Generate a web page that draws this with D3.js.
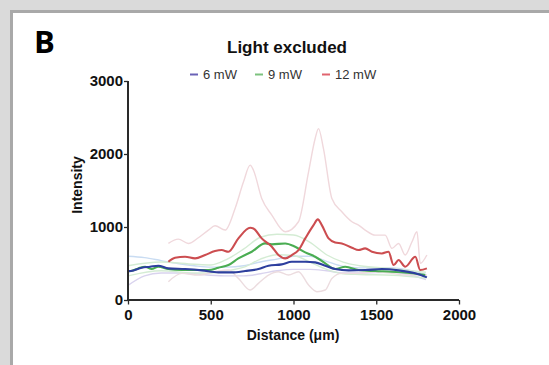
<!DOCTYPE html>
<html>
<head>
<meta charset="utf-8">
<script src="https://cdn.jsdelivr.net/npm/d3@7"></script>
<style>
  html, body { margin: 0; padding: 0; background: #dadada; }
  svg { display: block; }
</style>
</head>
<body>
<svg id="chart" width="549" height="365"></svg>
<script>
// ---- data: intensity profiles along distance (µm) ----
const xTicks = [0, 500, 1000, 1500, 2000];
const yTicks = [0, 1000, 2000, 3000];
const seriesNames = ["6 mW", "9 mW", "12 mW"];

// 6 mW mean
const mw6Dist = [0, 18, 83, 133, 183, 244, 345, 446, 546, 627, 708, 788, 849, 929, 990, 1071, 1131, 1192, 1252, 1333, 1433, 1534, 1635, 1736, 1806];
const mw6Mean = [395, 397, 442, 456, 470, 433, 424, 406, 378, 378, 397, 424, 470, 488, 524, 524, 515, 470, 424, 406, 410, 424, 406, 365, 310];
// 6 mW ± SD
const mw6SdDist = [0, 100, 200, 300, 400, 500, 600, 700, 800, 900, 1000, 1100, 1200, 1300, 1400, 1600, 1800];
const mw6Upper = [600, 580, 540, 500, 470, 450, 450, 470, 520, 560, 600, 600, 530, 460, 440, 440, 350];
const mw6Lower = [200, 330, 370, 370, 360, 340, 330, 330, 360, 400, 420, 420, 400, 370, 370, 380, 280];

// 9 mW mean
const mw9Dist = [0, 18, 62, 103, 143, 183, 244, 325, 405, 486, 546, 607, 667, 748, 829, 869, 950, 1010, 1071, 1131, 1192, 1252, 1313, 1393, 1494, 1595, 1700, 1796];
const mw9Mean = [395, 397, 433, 456, 424, 456, 424, 410, 410, 410, 442, 479, 570, 661, 775, 762, 775, 730, 652, 593, 502, 424, 456, 410, 397, 388, 370, 342];
// 9 mW ± SD
const mw9SdDist = [0, 200, 400, 500, 600, 700, 800, 900, 1000, 1100, 1200, 1300, 1400, 1600, 1800];
const mw9Upper = [470, 520, 490, 480, 560, 700, 860, 900, 890, 790, 620, 520, 470, 430, 380];
const mw9Lower = [330, 400, 370, 370, 400, 450, 560, 620, 610, 520, 420, 360, 350, 340, 300];

// 12 mW mean
const mw12Dist = [244, 284, 345, 405, 466, 526, 566, 607, 667, 738, 758, 808, 869, 909, 950, 990, 1030, 1071, 1121, 1147, 1171, 1212, 1252, 1292, 1353, 1393, 1433, 1474, 1534, 1574, 1605, 1635, 1675, 1736, 1766, 1806];
const mw12Mean = [524, 579, 593, 570, 616, 670, 684, 661, 844, 990, 980, 844, 730, 616, 570, 616, 684, 844, 1026, 1104, 1026, 844, 789, 775, 716, 684, 707, 661, 638, 661, 479, 547, 456, 593, 410, 433];
// 12 mW + SD
const mw12UpDist = [244, 304, 365, 425, 486, 526, 587, 647, 698, 738, 758, 808, 869, 950, 1030, 1091, 1131, 1151, 1181, 1232, 1292, 1353, 1393, 1433, 1494, 1554, 1595, 1635, 1675, 1716, 1746, 1766, 1806];
const mw12Upper = [775, 834, 775, 853, 958, 1017, 958, 1254, 1619, 1847, 1778, 1391, 1163, 935, 1072, 1756, 2212, 2348, 2075, 1391, 1208, 1072, 1026, 958, 889, 889, 707, 775, 616, 798, 935, 502, 616];
// 12 mW − SD
const mw12LoDist = [244, 325, 425, 526, 607, 667, 738, 788, 849, 909, 970, 1030, 1091, 1141, 1192, 1232, 1292, 1393, 1494, 1595, 1675, 1806];
const mw12Lower = [251, 365, 342, 388, 410, 296, 137, 228, 342, 388, 342, 388, 205, 114, 137, 296, 365, 365, 388, 365, 342, 342];

// ---- layout ----
const svg = d3.select("#chart");
const W = 549, H = 365;
const font = "'Liberation Sans', Arial, sans-serif";

// panel frame
svg.append("rect").attr("x", 0).attr("y", 0).attr("width", W).attr("height", H).attr("fill", "#dadada");
svg.append("rect").attr("x", 10).attr("y", 10).attr("width", W - 10).attr("height", H - 10).attr("fill", "#a9a9a9");
svg.append("rect").attr("x", 13).attr("y", 13).attr("width", W - 13).attr("height", H - 13).attr("fill", "#ffffff");

const x = d3.scaleLinear().domain([0, 2000]).range([128, 459]);
const y = d3.scaleLinear().domain([0, 3000]).range([300, 81]);

const zip = (xs, ys) => xs.map((d, i) => [d, ys[i]]);
const line = d3.line().x(d => x(d[0])).y(d => y(d[1])).curve(d3.curveMonotoneX);

const faint = [
  { pts: zip(mw6SdDist, mw6Upper), color: "#c9dcf2" },
  { pts: zip(mw6SdDist, mw6Lower), color: "#d9d3ee" },
  { pts: zip(mw9SdDist, mw9Upper), color: "#d4ecd4" },
  { pts: zip(mw9SdDist, mw9Lower), color: "#d4ecd4" },
  { pts: zip(mw12UpDist, mw12Upper), color: "#f0d8dc" },
  { pts: zip(mw12LoDist, mw12Lower), color: "#ecdcdf" }
];
const plot = svg.append("g");
plot.selectAll("path.sd").data(faint).join("path")
  .attr("class", "sd")
  .attr("d", d => line(d.pts))
  .attr("fill", "none")
  .attr("stroke", d => d.color)
  .attr("stroke-width", 1.4);

const means = [
  { pts: zip(mw9Dist, mw9Mean), color: "#4aad52" },
  { pts: zip(mw12Dist, mw12Mean), color: "#cc4d50" },
  { pts: zip(mw6Dist, mw6Mean), color: "#2d3f9e" }
];
plot.selectAll("path.mean").data(means).join("path")
  .attr("class", "mean")
  .attr("d", d => line(d.pts))
  .attr("fill", "none")
  .attr("stroke", d => d.color)
  .attr("stroke-width", 2.1)
  .attr("stroke-linejoin", "round");

// ---- axes ----
const axisColor = "#2a2a2a";
const gx = svg.append("g").attr("transform", `translate(0,${y(0)})`);
gx.call(d3.axisBottom(x).tickValues(d3.range(0, 2001, 50)).tickSize(2.5).tickFormat(""))
  .call(g => g.select(".domain").remove());
gx.call(d3.axisBottom(x).tickValues(xTicks).tickSize(4.5).tickPadding(5).tickFormat(d3.format("d")));
gx.selectAll("line").attr("stroke", axisColor).attr("stroke-width", 1.3);
gx.selectAll(".domain").attr("stroke", axisColor).attr("stroke-width", 2).attr("d", `M${x(0)},0H${x(2000)}`);
gx.selectAll("text").attr("font-family", font).attr("font-size", 15).attr("font-weight", "bold").attr("fill", "#111");

const gy = svg.append("g").attr("transform", `translate(${x(0)},0)`);
gy.call(d3.axisLeft(y).tickValues(yTicks).tickSize(4).tickPadding(1).tickFormat(d3.format("d")));
gy.selectAll("line").attr("stroke", axisColor).attr("stroke-width", 1.3);
gy.select(".domain").attr("stroke", axisColor).attr("stroke-width", 2).attr("d", `M0,${y(0)}V${y(3000)}`);
gy.selectAll("text").attr("font-family", font).attr("font-size", 15).attr("font-weight", "bold").attr("fill", "#111");

// axis titles
svg.append("text").attr("x", 293).attr("y", 340).attr("text-anchor", "middle")
  .attr("font-family", font).attr("font-size", 14).attr("font-weight", "bold").attr("fill", "#111")
  .text("Distance (μm)");
svg.append("text").attr("transform", "translate(82,185) rotate(-90)").attr("text-anchor", "middle")
  .attr("font-family", font).attr("font-size", 14).attr("font-weight", "bold").attr("fill", "#111")
  .text("Intensity");

// title and panel letter
svg.append("text").attr("x", 287).attr("y", 53).attr("text-anchor", "middle")
  .attr("font-family", font).attr("font-size", 17).attr("font-weight", "bold").attr("fill", "#111")
  .text("Light excluded");
svg.append("text").attr("x", 34).attr("y", 53)
  .attr("font-family", "'Open Sans', 'Liberation Sans', sans-serif").attr("font-size", 31).attr("font-weight", "bold").attr("fill", "#000")
  .text("B");

// legend
const legendColors = ["#6a62b6", "#7cc27e", "#e0646f"];
const legendX = [190, 255, 322];
const lg = svg.append("g").selectAll("g").data(seriesNames).join("g")
  .attr("transform", (d, i) => `translate(${legendX[i]},79)`);
lg.append("line").attr("x1", 0).attr("x2", 8).attr("y1", -4.5).attr("y2", -4.5)
  .attr("stroke", (d, i) => legendColors[i]).attr("stroke-width", 2);
lg.append("text").attr("x", 13).attr("y", 0)
  .attr("font-family", font).attr("font-size", 13).attr("fill", "#333")
  .text(d => d);
</script>
</body>
</html>
